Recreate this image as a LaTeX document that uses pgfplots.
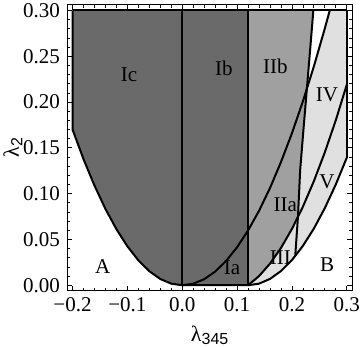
\documentclass[border=0pt]{standalone}
\usepackage{fontspec}
\setmainfont{Liberation Serif}
\setsansfont{Liberation Sans}
\usepackage{pgfplots}
\pgfplotsset{compat=1.18}
\usetikzlibrary{calc}

\definecolor{regdark}{RGB}{106,106,106}
\definecolor{regmid}{RGB}{160,160,160}
\definecolor{reglight}{RGB}{224,224,224}

\begin{document}
\begin{tikzpicture}
\begin{axis}[
    scale only axis,
    width=142.5pt, height=142.75pt,
    xmin=-0.21, xmax=0.31,
    ymin=-0.006, ymax=0.306,
    xtick={-0.2,-0.1,0,0.1,0.2,0.3},
    xticklabels={−0.2,−0.1,0.0,0.1,0.2,0.3},
    ytick={0,0.05,0.1,0.15,0.2,0.25,0.3},
    yticklabels={0.00,0.05,0.10,0.15,0.20,0.25,0.30},
    minor x tick num=4, minor y tick num=4,
    tick align=inside,
    major tick length=2.5pt, minor tick length=1.4pt,
    tick style={black, line width=0.4pt},
    axis line style={line width=0.5pt},
    tick label style={font=\fontsize{10.5}{12}\selectfont},
    xlabel={λ\raisebox{-0.35ex}{\sffamily\fontsize{8}{9}\selectfont 345}},
    ylabel={λ\raisebox{-0.35ex}{\sffamily\fontsize{8}{9}\selectfont 2}},
    label style={font=\fontsize{11}{13}\selectfont},
    xlabel style={at={(axis description cs:0.5,-0.156)}, anchor=center},
    ylabel style={at={(axis description cs:-0.19,0.5)}, anchor=center},
]
% region I
\addplot[fill=regdark, draw=none] coordinates {
    (-0.2,0.3) (-0.2,0.170) (-0.18,0.1377) (-0.16,0.1088) (-0.14,0.0833)
    (-0.12,0.0612) (-0.10,0.0425) (-0.08,0.0272) (-0.06,0.0153)
    (-0.04,0.0068) (-0.02,0.0017) (0,0) (0.12,0) (0.12,0.3)
} -- cycle;
% region II
\addplot[fill=regmid, draw=none] coordinates {
    (0.12,0) (0.12,0.3) (0.239,0.3) (0.233,0.256) (0.227,0.213)
    (0.221,0.17) (0.215,0.126) (0.211,0.075) (0.20,0.0615) (0.18,0.0407)
    (0.16,0.0236) (0.14,0.0100) (0.12,0)
} -- cycle;
% regions III, IV, V
\addplot[fill=reglight, draw=none] coordinates {
    (0.12,0) (0.14,0.0017) (0.16,0.0069) (0.18,0.0155) (0.20,0.0275)
    (0.22,0.043) (0.24,0.0619) (0.26,0.0843) (0.28,0.1101) (0.30,0.1393)
    (0.30,0.3) (0.2689,0.3) (0.26,0.2805) (0.24,0.239) (0.227,0.213)
    (0.221,0.17) (0.215,0.126) (0.211,0.075) (0.20,0.0615) (0.18,0.0407)
    (0.16,0.0236) (0.14,0.0100) (0.12,0)
} -- cycle;

% boundaries
\addplot[black, line width=1pt] coordinates {
    (-0.2,0.3) (-0.2,0.170) (-0.18,0.1377) (-0.16,0.1088) (-0.14,0.0833)
    (-0.12,0.0612) (-0.10,0.0425) (-0.08,0.0272) (-0.06,0.0153)
    (-0.04,0.0068) (-0.02,0.0017) (0,0) (0.12,0)
};
\addplot[black, line width=1pt] coordinates {(-0.2,0.3) (0.3,0.3)};
\addplot[black, line width=1pt] coordinates {(0,0) (0,0.3)};
\addplot[black, line width=1pt] coordinates {(0.12,0) (0.12,0.3)};
\addplot[black, line width=1pt] coordinates {(0.30,0.1393) (0.30,0.3)};
% lambda_2 ~ 4 lambda_345^2
\addplot[black, line width=1pt] coordinates {
    (0,0) (0.02,0.0017) (0.04,0.0066) (0.06,0.0149) (0.08,0.0266)
    (0.10,0.0415) (0.12,0.0598) (0.14,0.0813) (0.16,0.1062) (0.18,0.1345)
    (0.20,0.166) (0.22,0.2009) (0.24,0.239) (0.26,0.2805) (0.2689,0.3)
};
% II / III, V
\addplot[black, line width=1pt] coordinates {
    (0.12,0) (0.14,0.0100) (0.16,0.0236) (0.18,0.0407) (0.20,0.0615)
    (0.22,0.0858) (0.24,0.1137) (0.26,0.1452) (0.28,0.1803) (0.30,0.219)
};
% lower edge towards B
\addplot[black, line width=1pt] coordinates {
    (0.12,0) (0.14,0.0017) (0.16,0.0069) (0.18,0.0155) (0.20,0.0275)
    (0.22,0.043) (0.24,0.0619) (0.26,0.0843) (0.28,0.1101) (0.30,0.1393)
};
% steep edge of II
\addplot[black, line width=1pt] coordinates {
    (0.206,0.032) (0.211,0.075) (0.215,0.126) (0.221,0.17) (0.227,0.213)
    (0.233,0.256) (0.239,0.3)
};

\begin{scope}[font=\fontsize{10.5}{12}\selectfont]
\node at (axis cs:-0.097,0.230) {Ic};
\node at (axis cs:0.076,0.237) {Ib};
\node at (axis cs:0.170,0.239) {IIb};
\node at (axis cs:0.264,0.208) {IV};
\node at (axis cs:0.264,0.113) {V};
\node at (axis cs:0.188,0.088) {IIa};
\node at (axis cs:0.179,0.030) {III};
\node at (axis cs:0.091,0.019) {Ia};
\node at (axis cs:0.264,0.0226) {B};
\node at (axis cs:-0.145,0.0207) {A};
\end{scope}
\end{axis}
\pgfresetboundingbox
\path ($(current axis.south west)+(-33.5pt,-27.75pt)$) rectangle ($(current axis.north east)+(3.85pt,2.5pt)$);
\end{tikzpicture}
\end{document}
